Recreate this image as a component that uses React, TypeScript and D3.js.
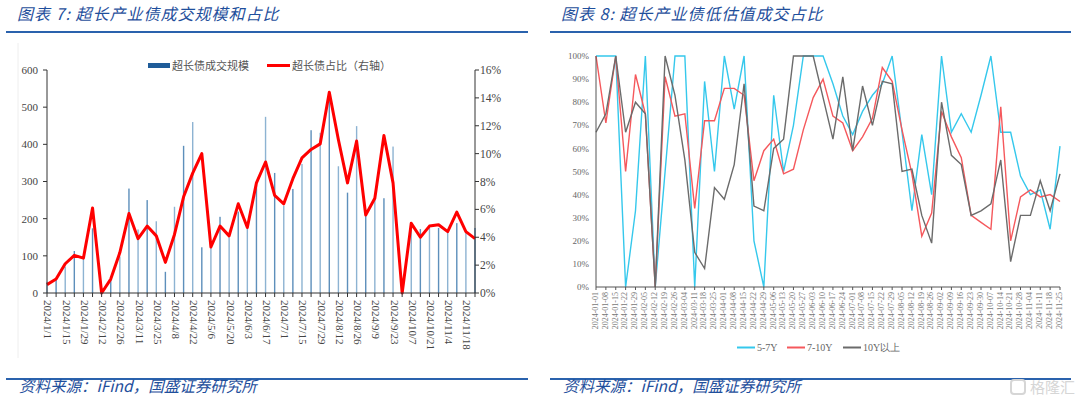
import React from "react";
import * as d3 from "d3";

// weekly dates, 2024-01-01 .. 2024-11-25
const dates = [
  "2024-01-01", "2024-01-08", "2024-01-15", "2024-01-22", "2024-01-29", "2024-02-05",
  "2024-02-12", "2024-02-19", "2024-02-26", "2024-03-04", "2024-03-11", "2024-03-18",
  "2024-03-25", "2024-04-01", "2024-04-08", "2024-04-15", "2024-04-22", "2024-04-29",
  "2024-05-06", "2024-05-13", "2024-05-20", "2024-05-27", "2024-06-03", "2024-06-10",
  "2024-06-17", "2024-06-24", "2024-07-01", "2024-07-08", "2024-07-15", "2024-07-22",
  "2024-07-29", "2024-08-05", "2024-08-12", "2024-08-19", "2024-08-26", "2024-09-02",
  "2024-09-09", "2024-09-16", "2024-09-23", "2024-09-30", "2024-10-07", "2024-10-14",
  "2024-10-21", "2024-10-28", "2024-11-04", "2024-11-11", "2024-11-18", "2024-11-25",
];

// chart 7
const volume = [
  30, 35, 71, 113, 93, 174, 3, 39, 98, 281, 171, 250, 193, 57, 232, 396,
  460, 123, 130, 205, 150, 219, 174, 290, 474, 323, 235, 280, 347, 438, 431, 520,
  341, 270, 449, 210, 257, 255, 394, 0, 170, 172, 175, 175, 166, 188, 166, 175,
];
const share = [
  0.6, 1.0, 2.1, 2.7, 2.5, 6.1, 0, 1.0, 2.9, 5.7, 3.9, 4.8, 4.1, 2.2, 4.2, 6.9,
  8.6, 10.0, 3.3, 4.8, 4.1, 6.4, 4.7, 7.9, 9.4, 7.0, 6.4, 8.2, 9.7, 10.3, 10.7, 14.4,
  11.0, 7.9, 10.9, 5.6, 6.8, 11.3, 7.9, 0, 5.0, 4.0, 4.8, 4.9, 4.4, 5.8, 4.4, 3.9,
];
const leftTicks = [0, 100, 200, 300, 400, 500, 600];
const rightTicks = [0, 2, 4, 6, 8, 10, 12, 14, 16];

// chart 8
const y5to7 = [
  100, 100, 100, 0, 33, 100, 0, 50, 100, 100, 0, 89, 50, 100, 77, 100,
  20, 0, 83, 50, 70, 100, 100, 100, 88, 74, 66, 76, 83, 88, 100, 67,
  33, 66, 40, 100, 67, 75, 67, 83, 100, 67, 67, 48, 40, 42, 25, 61,
];
const y7to10 = [
  100, 71, 100, 50, 92, 75, 0, 91, 74, 75, 34, 72, 72, 86, 86, 83,
  46, 59, 64, 49, 51, 68, 82, 90, 74, 71, 59, 65, 73, 95, 89, 68,
  49, 22, 32, 76, 65, 56, 31, 28, 25, 78, 20, 39, 42, 39, 40, 37,
];
const y10plus = [
  67, 75, 100, 67, 80, 75, 0, 100, 83, 55, 15, 8, 43, 38, 53, 88,
  35, 33, 60, 64, 100, 100, 100, 82, 64, 91, 59, 87, 70, 89, 88, 50,
  51, 31, 19, 80, 57, 53, 31, 33, 36, 55, 11, 31, 31, 46, 33, 49,
];
const pctTicks = [0, 10, 20, 30, 40, 50, 60, 70, 80, 90, 100];
const seriesNames = ["5-7Y", "7-10Y", "10Y以上"];
const seriesColors = ["#35c8ec", "#f5585c", "#6b6b6b"];

const BLUE = "#1f4f9c";
const SERIF = "'Liberation Serif', 'Times New Roman', serif";
const CJK = "'Noto Sans CJK SC', sans-serif";

function slashDate(s: string) {
  const [y, m, d] = s.split("-");
  return `${y}/${+m}/${+d}`;
}

function Chart7() {
  const x = d3.scalePoint().domain(dates).range([47, 475]);
  const yL = d3.scaleLinear().domain([0, 600]).range([293, 70]);
  const yR = d3.scaleLinear().domain([0, 16]).range([293, 70]);
  const line = d3
    .line<number>()
    .x((_, i) => x(dates[i])!)
    .y((d) => yR(d));

  return (
    <g>
      <line x1={18} x2={18} y1={43} y2={358} stroke="#eeeeee" />
      {/* bars */}
      {volume.map((v, i) => (
        <rect
          key={i}
          x={x(dates[i])! - 0.7}
          y={yL(v)}
          width={1.4}
          height={yL(0) - yL(v)}
          fill={i % 2 ? "#5d8fbb" : "#8db3d2"}
        />
      ))}
      <path d={line(share)!} fill="none" stroke="#ff0000" strokeWidth={3} strokeLinejoin="round" />

      {/* axes */}
      <line x1={47} x2={47} y1={70} y2={293} stroke="#333" />
      <line x1={475} x2={475} y1={70} y2={293} stroke="#333" />
      <line x1={47} x2={475} y1={293} y2={293} stroke="#333" />
      {leftTicks.map((t) => (
        <g key={t}>
          <line x1={43} x2={47} y1={yL(t)} y2={yL(t)} stroke="#333" />
          <text x={38} y={yL(t)} dy="0.35em" textAnchor="end" fontSize={11} fontFamily={SERIF} fill="#444">
            {t}
          </text>
        </g>
      ))}
      {rightTicks.map((t) => (
        <g key={t}>
          <line x1={475} x2={479} y1={yR(t)} y2={yR(t)} stroke="#333" />
          <text x={480} y={yR(t)} dy="0.35em" fontSize={11.5} fontFamily={SERIF} fill="#444">
            {t}%
          </text>
        </g>
      ))}
      {dates.map((d, i) => (
        <g key={d}>
          <line x1={x(d)} x2={x(d)} y1={293} y2={297} stroke="#333" />
          {i % 2 === 0 && (
            <text
              transform={`translate(${x(d)},300) rotate(90)`}
              dominantBaseline="middle"
              fontSize={11}
              fontFamily={SERIF}
              fill="#444"
            >
              {slashDate(d)}
            </text>
          )}
        </g>
      ))}

      {/* legend */}
      <rect x={148} y={63} width={22} height={5} fill="#1f5c99" />
      <text x={172} y={66} dy="0.35em" fontSize={11} fontFamily={CJK} fill="#555">
        超长债成交规模
      </text>
      <line x1={267} x2={290} y1={65.5} y2={65.5} stroke="#ff0000" strokeWidth={3} />
      <text x={292} y={66} dy="0.35em" fontSize={11} fontFamily={CJK} fill="#555">
        超长债占比（右轴）
      </text>
    </g>
  );
}

function Chart8() {
  const x = d3.scalePoint().domain(dates).range([596, 1060]);
  const y = d3.scaleLinear().domain([0, 100]).range([287, 56]);
  const line = d3
    .line<number>()
    .x((_, i) => x(dates[i])!)
    .y((d) => y(d));
  const series = [y5to7, y7to10, y10plus];
  const legendX = [737, 787, 843];

  return (
    <g>
      {series.map((s, k) => (
        <path key={k} d={line(s)!} fill="none" stroke={seriesColors[k]} strokeWidth={1.4} />
      ))}
      <line x1={596} x2={596} y1={56} y2={287} stroke="#555" />
      <line x1={596} x2={1060} y1={287} y2={287} stroke="#555" />
      {pctTicks.map((t) => (
        <text key={t} x={589} y={y(t)} dy="0.35em" textAnchor="end" fontSize={9} fontFamily={SERIF} fill="#666">
          {t}%
        </text>
      ))}
      {dates.map((d) => (
        <g key={d}>
          <line x1={x(d)} x2={x(d)} y1={287} y2={290} stroke="#555" />
          <text
            transform={`translate(${x(d)},292) rotate(-90)`}
            textAnchor="end"
            dominantBaseline="middle"
            fontSize={8}
            fontFamily={SERIF}
            fill="#777"
          >
            {d}
          </text>
        </g>
      ))}
      {seriesNames.map((n, k) => (
        <g key={n}>
          <line x1={legendX[k]} x2={legendX[k] + 18} y1={347.5} y2={347.5} stroke={seriesColors[k]} strokeWidth={2} />
          <text x={legendX[k] + 20} y={347.5} dy="0.35em" fontSize={10} fontFamily={SERIF} fill="#666">
            {n}
          </text>
        </g>
      ))}
    </g>
  );
}

function Frame({ x0, x1, title }: { x0: number; x1: number; title: string }) {
  return (
    <g>
      <text x={x0 + 11} y={20} fontSize={16} fontStyle="italic" fontFamily={CJK} fill={BLUE} letterSpacing={1}>
        {title}
      </text>
      <line x1={x0} x2={x1} y1={32} y2={32} stroke="#2a62ad" strokeWidth={2} />
      <line x1={x0} x2={x1} y1={379} y2={379} stroke="#2a62ad" strokeWidth={2} />
      <text x={x0 + 13} y={392} fontSize={15.5} fontStyle="italic" fontFamily={CJK} fill={BLUE}>
        资料来源：iFind，国盛证券研究所
      </text>
    </g>
  );
}

export default function App() {
  return (
    <svg
      width={1080}
      height={399}
      style={{ position: "fixed", left: 0, top: 0, background: "#fff" }}
    >
      <rect width={1080} height={399} fill="#fff" />
      <Frame x0={6} x1={528} title="图表 7:  超长产业债成交规模和占比" />
      <Frame x0={550} x1={1071} title="图表 8:  超长产业债低估值成交占比" />
      <Chart7 />
      <Chart8 />
      <text x={1030} y={393} fontSize={15} fontFamily={CJK} fill="#d6d6d6">
        格隆汇
      </text>
      <rect x={1011} y={380} width={14} height={14} rx={3} fill="none" stroke="#d6d6d6" strokeWidth={2} />
    </svg>
  );
}
